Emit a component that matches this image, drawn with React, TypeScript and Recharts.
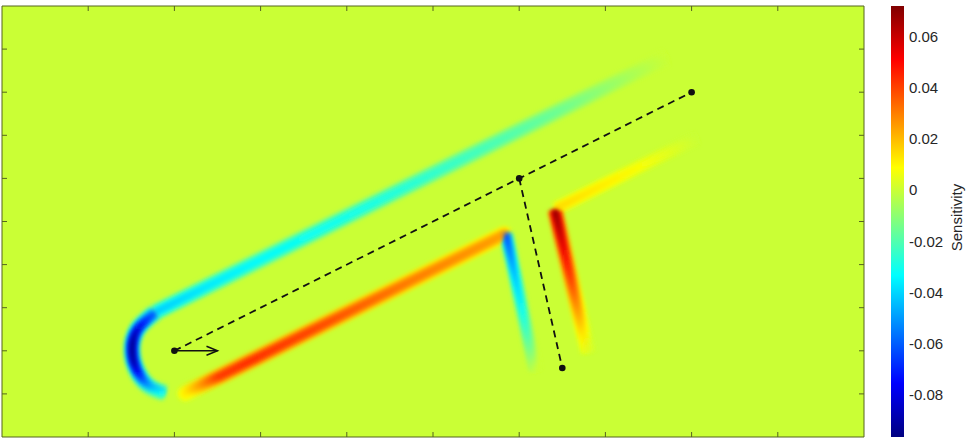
import { ComposedChart, Line, Scatter, XAxis, YAxis, CartesianGrid, BarChart, Bar } from 'recharts'

// colour scale limits
const cbMin = -0.0965
const cbMax = 0.0719
const cbTicks = [-0.08, -0.06, -0.04, -0.02, 0, 0.02, 0.04, 0.06]

const xTicks = [2, 4, 6, 8, 10, 12, 14, 16, 18]
const yTicks = [1, 2, 3, 4, 5, 6, 7, 8, 9]

// ray: source -> reflection point -> receiver, plus the branch
const rayPath = [{ x: 4, y: 2 }, { x: 12, y: 6 }, { x: 16, y: 8 }]
const branchPath = [{ x: 12, y: 6 }, { x: 13, y: 1.6 }]
const markers = [{ x: 4, y: 2 }, { x: 12, y: 6 }, { x: 16, y: 8 }, { x: 13, y: 1.6 }]
const arrowPath = [{ x: 4, y: 2 }, { x: 5.0, y: 2 }]

// sensitivity bands (points along the band, values sampled evenly along it)
const arcPts = [
  { x: 3.55, y: 2.89 }, { x: 3.13, y: 2.48 }, { x: 3.02, y: 1.95 },
  { x: 3.16, y: 1.48 }, { x: 3.43, y: 1.16 }, { x: 3.78, y: 1.02 },
]
const arcVals = [-0.058, -0.072, -0.085, -0.092, -0.092, -0.088, -0.076, -0.056, -0.032]
const upperPts = [{ x: 3.55, y: 2.89 }, { x: 15.4, y: 8.81 }]
const upperVals = [-0.042, -0.037, -0.034, -0.032, -0.03, -0.027, -0.024, -0.02, -0.015, -0.008, 0]
const lowerPts = [{ x: 4.25, y: 1.01 }, { x: 11.65, y: 4.7 }]
const lowerVals = [0.012, 0.042, 0.044, 0.042, 0.04, 0.037, 0.034, 0.031, 0.029, 0.027, 0.025]
const farPts = [{ x: 12.85, y: 5.3 }, { x: 16.1, y: 6.93 }]
const farVals = [0.015, 0.013, 0.011, 0.008, 0.004, 0]
const bluePts = [{ x: 11.7, y: 4.72 }, { x: 12.37, y: 1.55 }]
const blueVals = [-0.064, -0.054, -0.045, -0.038, -0.031, -0.023, -0.013, 0]
const redPts = [{ x: 12.83, y: 5.27 }, { x: 13.6, y: 1.97 }]
const redVals = [0.069, 0.063, 0.055, 0.047, 0.04, 0.031, 0.022, 0.012, 0.003]

const colorbarData = [{ name: 'cb', range: [cbMin, cbMax] }]

const bands: any[] = [
  { id: 'upper', pts: upperPts, vals: upperVals, w: 16 },
  { id: 'arc', pts: arcPts, vals: arcVals, w: 16, curve: 'natural', vertical: true },
  { id: 'lower', pts: lowerPts, vals: lowerVals, w: 16, cap: 'round' },
  { id: 'far', pts: farPts, vals: farVals, w: 13 },
  { id: 'blue', pts: bluePts, vals: blueVals, w: 13 },
  { id: 'red', pts: redPts, vals: redVals, w: 15 },
]
// soft edge: wide faint stroke under narrower stronger ones
const layers = [
  { w: 1, k: 0.4 },
  { w: 0.7, k: 0.75 },
  { w: 0.4, k: 1 },
]

const frame = '#55641f'
const font = '"Liberation Sans", Arial, sans-serif'

function jetT(t: number) {
  const c = (a: number) => Math.round(255 * Math.min(1, Math.max(0, a)))
  const r = c(Math.min(4 * t - 1.5, 4.5 - 4 * t))
  const g = c(Math.min(4 * t - 0.5, 3.5 - 4 * t))
  const b = c(Math.min(4 * t + 0.5, 2.5 - 4 * t))
  return `rgb(${r},${g},${b})`
}

function jet(v: number) {
  const t = Math.min(1, Math.max(0, (v - cbMin) / (cbMax - cbMin)))
  return jetT(t)
}

function gradVec(b: any) {
  if (b.vertical) return { x1: 0, y1: 0, x2: 0, y2: 1 }
  const a = b.pts[0]
  const z = b.pts[b.pts.length - 1]
  return {
    x1: a.x <= z.x ? 0 : 1,
    x2: a.x <= z.x ? 1 : 0,
    y1: a.y >= z.y ? 0 : 1,
    y2: a.y >= z.y ? 1 : 0,
  }
}

function ColorbarTitle({ viewBox }: any) {
  const cx = viewBox.x + viewBox.width - 5
  const cy = viewBox.y + viewBox.height / 2 - 4
  return (
    <text
      x={cx}
      y={cy}
      transform={`rotate(-90 ${cx} ${cy})`}
      textAnchor="middle"
      fontSize={15}
      fontFamily={font}
      fill="#262626"
    >
      Sensitivity
    </text>
  )
}

const noLabel = () => ''
const hiddenTick = { fontSize: 0 }

export default function App() {
  return (
    <div style={{ position: 'relative', width: 967, height: 442, background: '#fff' }}>
      <style>{`body { margin: 0; } .band .recharts-line-curve { filter: url(#bandBlur); }`}</style>
      <ComposedChart width={967} height={442} margin={{ top: 6, right: 103, bottom: 5, left: 2 }}>
        <defs>
          <filter id="bandBlur" filterUnits="userSpaceOnUse" x={-20} y={-20} width={1010} height={480}>
            <feGaussianBlur stdDeviation={2} />
          </filter>
          {layers.map((l, li) =>
            bands.map((b) => {
              const g = gradVec(b)
              return (
                <linearGradient key={`g-${b.id}-${li}`} id={`g-${b.id}-${li}`} {...g}>
                  {b.vals.map((v: number, i: number) => (
                    <stop key={i} offset={i / (b.vals.length - 1)} stopColor={jet(v * l.k)} />
                  ))}
                </linearGradient>
              )
            })
          )}
        </defs>

        <CartesianGrid horizontal={false} vertical={false} fill={jet(0)} fillOpacity={1} />

        {layers.map((l, li) =>
          bands.map((b) => (
            <Line
              key={`${b.id}-${li}`}
              className="band"
              data={b.pts}
              dataKey="y"
              type={b.curve || 'linear'}
              stroke={`url(#g-${b.id}-${li})`}
              strokeWidth={b.w * l.w}
              strokeLinecap={b.cap || 'butt'}
              dot={false}
              activeDot={false}
              legendType="none"
              isAnimationActive={false}
            />
          ))
        )}

        <Line
          data={rayPath}
          dataKey="y"
          type="linear"
          stroke="#111"
          strokeWidth={1.8}
          strokeDasharray="7 5"
          dot={false}
          activeDot={false}
          isAnimationActive={false}
        />
        <Line
          data={branchPath}
          dataKey="y"
          type="linear"
          stroke="#111"
          strokeWidth={1.8}
          strokeDasharray="7 5"
          dot={false}
          activeDot={false}
          isAnimationActive={false}
        />
        <Line
          data={arrowPath}
          dataKey="y"
          type="linear"
          stroke="#111"
          strokeWidth={1.5}
          activeDot={false}
          isAnimationActive={false}
          dot={(p: any) =>
            p.index === arrowPath.length - 1 ? (
              <path
                key={`ah-${p.index}`}
                d={`M${p.cx - 11},${p.cy - 4.5} L${p.cx},${p.cy} L${p.cx - 11},${p.cy + 4.5}`}
                fill="none"
                stroke="#111"
                strokeWidth={1.5}
              />
            ) : (
              <g key={`ah-${p.index}`} />
            )
          }
        />

        <Scatter
          data={markers}
          xAxisId="top"
          yAxisId="right"
          isAnimationActive={false}
          shape={(p: any) => <circle cx={p.cx} cy={p.cy} r={3.3} fill="#111" />}
        />

        <XAxis type="number" dataKey="x" domain={[0, 20]} ticks={xTicks} tick={hiddenTick} tickFormatter={noLabel} mirror tickSize={5} height={1} stroke={frame} allowDataOverflow />
        <XAxis xAxisId="top" orientation="top" type="number" dataKey="x" domain={[0, 20]} ticks={xTicks} tick={hiddenTick} tickFormatter={noLabel} mirror tickSize={5} height={1} stroke={frame} allowDataOverflow />
        <YAxis type="number" dataKey="y" domain={[0, 10]} ticks={yTicks} tick={hiddenTick} tickFormatter={noLabel} mirror tickSize={5} width={1} stroke={frame} allowDataOverflow />
        <YAxis yAxisId="right" orientation="right" type="number" dataKey="y" domain={[0, 10]} ticks={yTicks} tick={hiddenTick} tickFormatter={noLabel} mirror tickSize={5} width={1} stroke={frame} allowDataOverflow />
      </ComposedChart>

      <div style={{ position: 'absolute', left: 880, top: 0 }}>
        <BarChart width={87} height={442} data={colorbarData} margin={{ top: 6, right: 0, bottom: 5, left: 11 }} barCategoryGap={0}>
          <defs>
            <linearGradient id="cbGrad" x1={0} y1={1} x2={0} y2={0}>
              {[0, 1 / 8, 3 / 8, 5 / 8, 7 / 8, 1].map((t) => (
                <stop key={t} offset={t} stopColor={jetT(t)} />
              ))}
            </linearGradient>
          </defs>
          <XAxis dataKey="name" hide />
          <YAxis
            orientation="right"
            type="number"
            domain={[cbMin, cbMax]}
            ticks={cbTicks}
            allowDataOverflow
            width={63}
            axisLine={false}
            tickLine={false}
            tickSize={3}
            tickMargin={2}
            tickFormatter={(v: number) => String(v)}
            tick={{ fill: '#262626', fontSize: 15, fontFamily: font }}
            label={<ColorbarTitle />}
          />
          <Bar dataKey="range" fill="url(#cbGrad)" isAnimationActive={false} />
        </BarChart>
      </div>
    </div>
  )
}
